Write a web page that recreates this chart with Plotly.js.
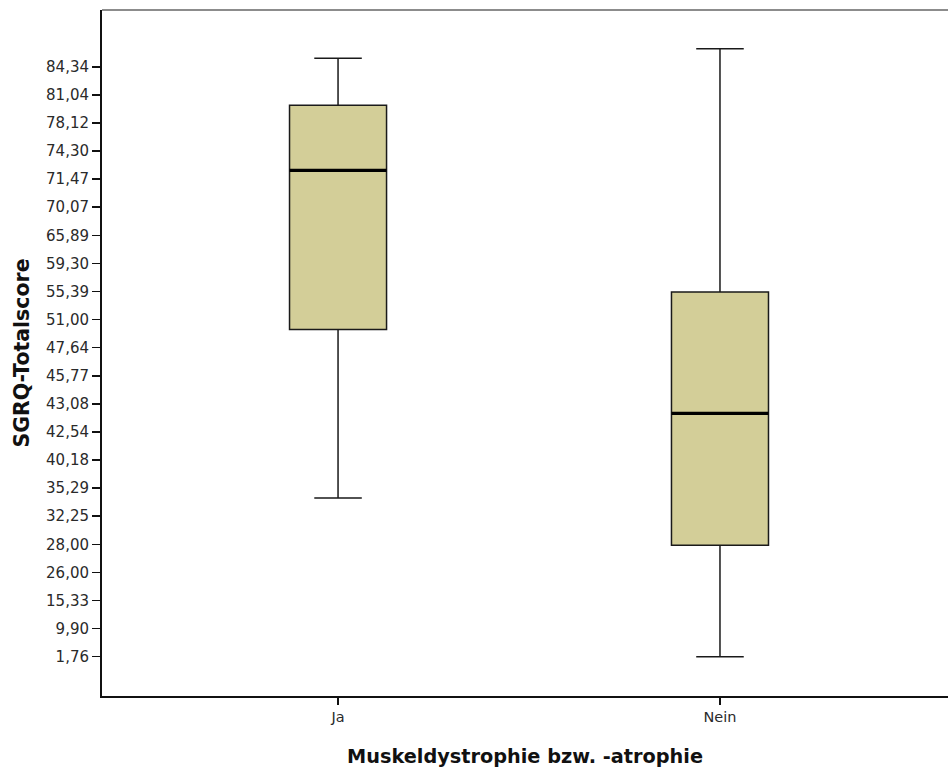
<!DOCTYPE html>
<html>
<head>
<meta charset="utf-8">
<script src="https://cdn.plot.ly/plotly-3.0.1.min.js"></script>
<style>
  html, body { margin: 0; padding: 0; background: #ffffff; overflow: hidden; }
  #chart { width: 948px; height: 769px; }
</style>
</head>
<body>
<div id="chart"></div>
<script>
// Ordinal score axis: each listed score occupies one rank step (0 = lowest)
const scoreLabels = ["1,76", "9,90", "15,33", "26,00", "28,00", "32,25", "35,29", "40,18",
                     "42,54", "43,08", "45,77", "47,64", "51,00", "55,39", "59,30", "65,89",
                     "70,07", "71,47", "74,30", "78,12", "81,04", "84,34"];

// Groups and box statistics, expressed in rank positions on that axis
const groups    = ["Ja", "Nein"];
const lowFence  = [5.65, 0.00];
const q1        = [11.65, 3.97];
const median    = [17.31, 8.66];
const q3        = [19.63, 12.98];
const highFence = [21.30, 21.64];

const boxWidth = 0.254;
const boxFill = "#d3ce98";
const inkColor = "#1a1a1a";

const trace = {
  type: "box",
  x: groups,
  q1: q1,
  median: median,
  q3: q3,
  lowerfence: lowFence,
  upperfence: highFence,
  boxpoints: false,
  width: boxWidth,
  whiskerwidth: 0.49,
  fillcolor: boxFill,
  line: { color: inkColor, width: 1.5 },
  hoverinfo: "skip",
  showlegend: false
};

// Thick median bars drawn over each box
const medianShapes = groups.map((g, i) => ({
  type: "line",
  xref: "x", yref: "y",
  x0: i - boxWidth / 2, x1: i + boxWidth / 2,
  y0: median[i], y1: median[i],
  line: { color: "#000000", width: 3.2 }
}));

// Light frame line along the top of the plotting area
const topLine = {
  type: "line", xref: "paper", yref: "paper",
  x0: 0, x1: 1, y0: 1, y1: 1,
  line: { color: "#8c8c8c", width: 2 }
};

const tickIdx = scoreLabels.map((_, i) => i);

const layout = {
  width: 948,
  height: 769,
  paper_bgcolor: "#ffffff",
  plot_bgcolor: "#ffffff",
  margin: { l: 102, r: 0, t: 10, b: 73 },
  font: { family: "DejaVu Sans, Arial, sans-serif", color: "#222222", size: 15 },
  xaxis: {
    type: "category",
    range: [-0.618, 1.597],
    showgrid: false,
    zeroline: false,
    showline: true,
    linecolor: "#111111",
    linewidth: 2,
    ticks: "outside",
    ticklen: 7,
    tickwidth: 1.5,
    tickcolor: "#111111",
    tickfont: { family: "DejaVu Sans, Arial, sans-serif", size: 14.5, color: "#2a2a2a" },
    automargin: false,
    title: {
      text: "Muskeldystrophie bzw. -atrophie",
      font: { family: "DejaVu Sans, Arial, sans-serif", size: 19.3, color: "#111111", weight: "bold" },
      standoff: 25
    }
  },
  yaxis: {
    range: [-1.40, 23.02],
    showgrid: false,
    zeroline: false,
    showline: true,
    linecolor: "#111111",
    linewidth: 2,
    ticks: "outside",
    ticklen: 8,
    tickwidth: 1.5,
    tickcolor: "#111111",
    tickmode: "array",
    tickvals: tickIdx,
    ticktext: scoreLabels,
    tickfont: { family: "DejaVu Sans, Arial, sans-serif", size: 15, color: "#2a2a2a" },
    automargin: false,
    title: {
      text: "SGRQ-Totalscore",
      font: { family: "DejaVu Sans, Arial, sans-serif", size: 20.5, color: "#111111", weight: "bold" },
      standoff: 11
    }
  },
  shapes: [topLine].concat(medianShapes)
};

Plotly.newPlot("chart", [trace], layout, { displayModeBar: false, staticPlot: true });
</script>
</body>
</html>
